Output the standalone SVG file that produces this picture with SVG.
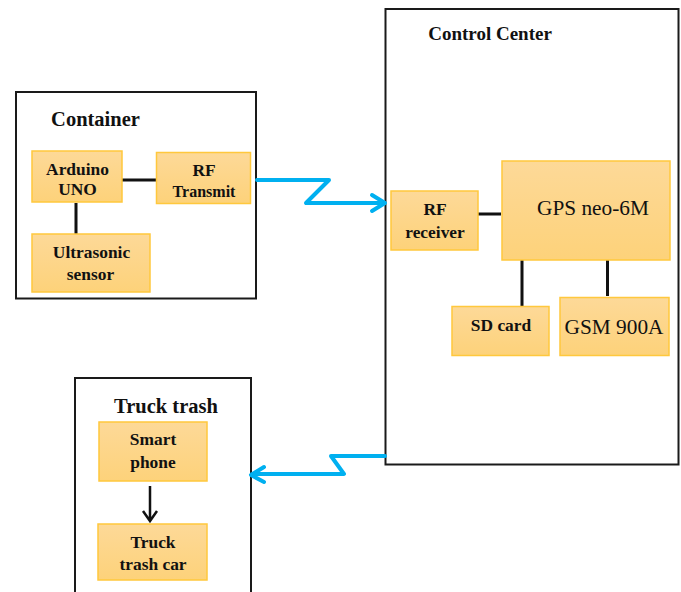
<svg xmlns="http://www.w3.org/2000/svg" width="681" height="592" viewBox="0 0 681 592">
<style>
text{font-family:"Liberation Serif","Times New Roman",serif;fill:#111;text-anchor:middle}
.c{font-weight:bold;font-size:20.500px}
.d{font-weight:bold;font-size:19px}
.n{font-weight:bold;font-size:17.400px}
.s{font-weight:bold;font-size:16px}
.r{font-size:21.300px}
.frame{fill:#fff;stroke:#1a1a1a;stroke-width:2}
.box{fill:url(#g);stroke:#ffc83d;stroke-width:1.500}
.line{fill:none;stroke:#111;stroke-width:3}
.thin{fill:none;stroke:#111;stroke-width:2.500}
.wave{fill:none;stroke:#00b0f0;stroke-width:4;stroke-linejoin:round;stroke-linecap:round}
</style>
<defs>
<linearGradient id="g" x1="0" y1="0" x2="0" y2="1"><stop offset="0" stop-color="#fdd998"/><stop offset="1" stop-color="#fdd27a"/></linearGradient>
</defs>
<rect width="681" height="592" fill="#fff"/>
<g id="container"><rect class="frame" x="16" y="92" width="240" height="206.500"/><text class="c" x="95.500" y="125.500">Container</text></g>
<g id="control-center"><rect class="frame" x="385.500" y="9" width="293" height="455.500"/><text class="d" x="490" y="39.500">Control Center</text></g>
<g id="truck-trash"><rect class="frame" x="75" y="378" width="176" height="220"/><text class="c" x="166" y="412.500">Truck trash</text></g>
<g id="connectors">
<path class="line" d="M122 180H157M76 203V234M476 214H501M522 260V306M607.500 259V296"/>
<path class="thin" d="M150 486V521M143 511L150 521L157 511"/>
<path class="wave" d="M257 180H329L306 203H384M372 195L385 203L372 211"/>
<path class="wave" d="M385 456H331L344 474H252M264 467L251 475L264 482"/>
</g>
<g id="arduino"><rect class="box" x="32" y="151" width="90" height="51"/><text class="n" x="77.500" y="175">Arduino</text><text class="n" x="77.500" y="195">UNO</text></g>
<g id="rf-transmit"><rect class="box" x="156.500" y="152.500" width="94" height="51"/><text class="n" x="204" y="176">RF</text><text class="s" x="204" y="197">Transmit</text></g>
<g id="ultrasonic"><rect class="box" x="32" y="234" width="118" height="58"/><text class="n" x="91.500" y="258">Ultrasonic</text><text class="n" x="90.500" y="280">sensor</text></g>
<g id="rf-receiver"><rect class="box" x="391" y="191" width="87" height="59"/><text class="n" x="435" y="215">RF</text><text class="n" x="435" y="238">receiver</text></g>
<g id="gps"><rect class="box" x="502" y="161" width="168" height="99"/><text class="r" x="593" y="214.500">GPS neo-6M</text></g>
<g id="sd-card"><rect class="box" x="452" y="306.500" width="97" height="49"/><text class="n" x="501" y="331">SD card</text></g>
<g id="gsm"><rect class="box" x="560" y="297.500" width="109" height="58"/><text class="r" x="614" y="333.500">GSM 900A</text></g>
<g id="smart-phone"><rect class="box" x="99" y="422" width="108" height="59"/><text class="n" x="153" y="445">Smart</text><text class="n" x="153" y="468">phone</text></g>
<g id="truck-car"><rect class="box" x="98" y="524" width="109" height="56"/><text class="n" x="153" y="548">Truck</text><text class="n" x="153" y="570">trash car</text></g>
</svg>
